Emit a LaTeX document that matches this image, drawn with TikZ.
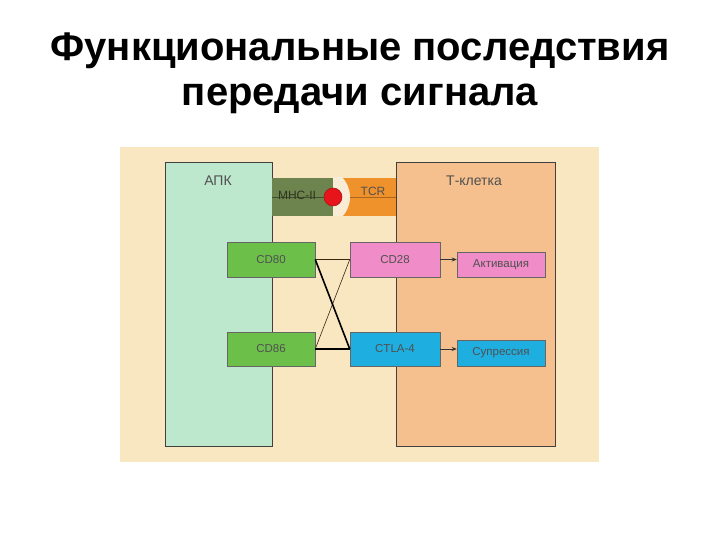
\documentclass[tikz,border=0pt]{standalone}
\usepackage{fontspec}
\setmainfont{Liberation Sans}
\usepackage{tikz}
\usetikzlibrary{arrows.meta,calc}
\definecolor{panelbg}{RGB}{249,231,193}
\definecolor{apkcol}{RGB}{190,232,205}
\definecolor{tcellcol}{RGB}{245,192,141}
\definecolor{mhccol}{RGB}{110,132,78}
\definecolor{tcrcol}{RGB}{240,146,44}
\definecolor{halocol}{RGB}{248,236,214}
\definecolor{dotcol}{RGB}{232,20,27}
\definecolor{greencol}{RGB}{108,192,74}
\definecolor{pinkcol}{RGB}{240,140,200}
\definecolor{bluecol}{RGB}{30,174,224}
\definecolor{labelcol}{RGB}{80,80,80}

\begin{document}
\begin{tikzpicture}[x=1pt,y=-1pt,
    cell/.style={draw=black!75, line width=0.7pt},
    mol/.style={draw=black!60, line width=0.5pt, font=\fontsize{11.5}{12}\selectfont, text=labelcol, inner sep=0pt},
    link/.style={draw=black!70!brown, line width=0.6pt},
    strong/.style={draw=black, line width=1.6pt},
    sig/.style={draw=black!80, line width=0.6pt, -{Stealth[length=5pt,width=4pt]}}]
    \useasboundingbox (0,0) rectangle (720,540);

    % title
    \node[anchor=base, font=\fontsize{40}{44}\bfseries\selectfont] (title1) at (360,61) {Функциональные последствия};
    \node[anchor=base, font=\fontsize{40}{44}\bfseries\selectfont] (title2) at (360,106) {передачи сигнала};

    % background panel
    \fill[panelbg] (120,147) rectangle (599,462);

    % cells
    \node[cell, fill=apkcol, minimum width=107pt, minimum height=284pt] (apk) at (218.5,304) {};
    \node[cell, fill=tcellcol, minimum width=159pt, minimum height=284pt] (tcell) at (475.5,304) {};
    \node[text=labelcol, font=\fontsize{14}{15}\selectfont] (apklbl) at (218,181) {АПК};
    \node[text=labelcol, font=\fontsize{14}{15}\selectfont] (tcelllbl) at (474,181) {Т-клетка};

    % MHC-II / TCR contact
    \begin{scope}
        \clip (333,178) rectangle (396,216);
        \fill[tcrcol] (333,178) rectangle (396,216);
        \draw[tcrcol!70!black, line width=0.6pt] (333,197) -- (396,197);
        \fill[halocol] (321,197) circle (29);
    \end{scope}
    \fill[mhccol] (272,178) rectangle (333,216);
    \draw[mhccol!60!black, line width=0.6pt] (272,197) -- (333,197);
    \node[text=black!60!mhccol, font=\fontsize{12}{13}\selectfont] (mhc) at (297,195) {MHC-II};
    \node[text=labelcol, font=\fontsize{12}{13}\selectfont] (tcr) at (373,191) {TCR};
    \filldraw[fill=dotcol, draw=dotcol!70!black, line width=0.5pt] (333,197) circle (9);

    % molecules
    \node[mol, fill=greencol, minimum width=88pt, minimum height=35pt] (cd80) at (271,259.5) {CD80};
    \node[mol, fill=greencol, minimum width=88pt, minimum height=34pt] (cd86) at (271,349) {CD86};
    \node[mol, fill=pinkcol, minimum width=90pt, minimum height=35pt] (cd28) at (395,259.5) {CD28};
    \node[mol, fill=bluecol, minimum width=90pt, minimum height=34pt] (ctla) at (395,349) {CTLA-4};
    \node[mol, fill=pinkcol, minimum width=88pt, minimum height=25pt] (act) at (501,264.5) {Активация};
    \node[mol, fill=bluecol, minimum width=88pt, minimum height=26pt] (sup) at (501,353) {Супрессия};

    % links
    \draw[link] (cd80.east) -- (cd28.west);
    \draw[link] (cd86.east) -- (cd28.west);
    \draw[strong] (cd80.east) -- (ctla.west);
    \draw[strong] (cd86.east) -- (ctla.west);

    % signals
    \draw[sig] (cd28.east) -- (act.west |- cd28.east);
    \draw[sig] (ctla.east) -- (sup.west |- ctla.east);
\end{tikzpicture}
\end{document}
